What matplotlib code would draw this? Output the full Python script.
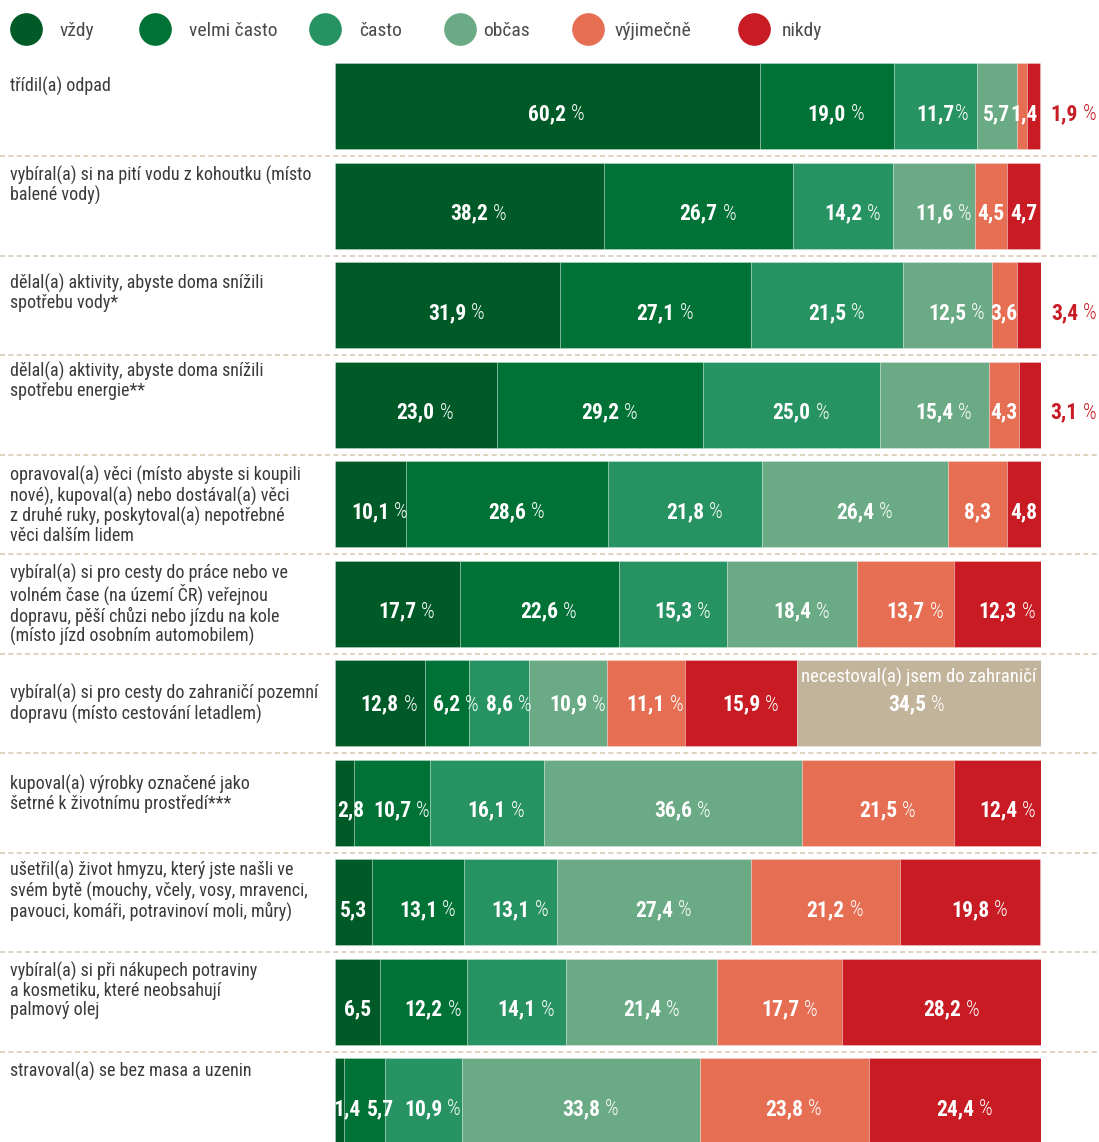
import matplotlib.pyplot as plt
from matplotlib.lines import Line2D
import matplotlib.transforms as mtransforms

plt.rcParams['font.family'] = ['Roboto Condensed', 'DejaVu Sans']

levels = ["vždy", "velmi často", "často", "občas", "výjimečně", "nikdy"]
colors = ["#005a27", "#007236", "#279262", "#6aaa85", "#e56e53", "#c81b23"]
tan = "#c2b39b"

categories = [
    "třídil(a) odpad",
    "vybíral(a) si na pití vodu z kohoutku (místo\nbalené vody)",
    "dělal(a) aktivity, abyste doma snížili\nspotřebu vody*",
    "dělal(a) aktivity, abyste doma snížili\nspotřebu energie**",
    "opravoval(a) věci (místo abyste si koupili\nnové), kupoval(a) nebo dostával(a) věci\nz druhé ruky, poskytoval(a) nepotřebné\nvěci dalším lidem",
    "vybíral(a) si pro cesty do práce nebo ve\nvolném čase (na území ČR) veřejnou\ndopravu, pěší chůzi nebo jízdu na kole\n(místo jízd osobním automobilem)",
    "vybíral(a) si pro cesty do zahraničí pozemní\ndopravu (místo cestování letadlem)",
    "kupoval(a) výrobky označené jako\nšetrné k životnímu prostředí***",
    "ušetřil(a) život hmyzu, který jste našli ve\nsvém bytě (mouchy, včely, vosy, mravenci,\npavouci, komáři, potravinoví moli, můry)",
    "vybíral(a) si při nákupech potraviny\na kosmetiku, které neobsahují\npalmový olej",
    "stravoval(a) se bez masa a uzenin",
]

values = [
    [60.2, 19.0, 11.7, 5.7, 1.4, 1.9],
    [38.2, 26.7, 14.2, 11.6, 4.5, 4.7],
    [31.9, 27.1, 21.5, 12.5, 3.6, 3.4],
    [23.0, 29.2, 25.0, 15.4, 4.3, 3.1],
    [10.1, 28.6, 21.8, 26.4, 8.3, 4.8],
    [17.7, 22.6, 15.3, 18.4, 13.7, 12.3],
    [12.8, 6.2, 8.6, 10.9, 11.1, 15.9],
    [2.8, 10.7, 16.1, 36.6, 21.5, 12.4],
    [5.3, 13.1, 13.1, 27.4, 21.2, 19.8],
    [6.5, 12.2, 14.1, 21.4, 17.7, 28.2],
    [1.4, 5.7, 10.9, 33.8, 23.8, 24.4],
]

# share of people who did not travel abroad (row 7)
no_travel = 34.5
no_travel_row = 6

# segments printed without the "%" sign, and those printed outside the bar
no_pct = {(0, 3), (0, 4), (1, 4), (1, 5), (2, 4), (3, 4), (4, 4), (4, 5),
          (7, 0), (8, 0), (9, 0), (10, 0), (10, 1)}
tight_pct = {(0, 2)}
outside = {(0, 5), (2, 5), (3, 5)}
# horizontal nudges (px) for crowded labels
nudge = {(0, 4): 2, (7, 0): 6, (10, 0): 7, (10, 1): 16}
# gap (px) between bar top and the first line of each category name
name_dy = [15, 4, 13, 1, 6, 4, 25, 16, 3, 4, 5]

W, H = 1099, 1142
fig = plt.figure(figsize=(W / 100, H / 100), dpi=100)
x0, x1 = 334.5, 1041
ax = fig.add_axes([x0 / W, 0, (x1 - x0) / W, 1])
row0, step = 106, 99.5
ax.set_xlim(0, 100)
ax.set_ylim((H - row0) / step, -row0 / step)
ax.axis('off')

bar_h = 86 / step
ppx = 100 / (x1 - x0)  # data units per pixel along x


def fmt(v):
    return f"{v:.1f}".replace('.', ',')


def value_label(x, y, v, pct=True, color='white', gap=3.5, fs=15.5):
    # number is centred on x, the "%" hangs off its right side
    t = ax.text(x, y, fmt(v), ha='center', va='baseline', color=color,
                fontsize=fs, fontweight='bold', clip_on=False)
    if pct:
        ax.annotate('%', xy=(1, 0), xycoords=t, xytext=(gap, 0),
                    textcoords='offset points', ha='left', va='bottom',
                    color=color, fontsize=fs, fontweight='light')


base_dy = 14 / step

for i, row in enumerate(values):
    left = 0
    ly = i + (7.7 / step if i == no_travel_row else base_dy)
    for j, v in enumerate(row):
        ax.barh(i, v, left=left, height=bar_h, color=colors[j],
                edgecolor=(1, 1, 1, 0.3), linewidth=0.6)
        cx = left + v / 2 + nudge.get((i, j), 0) * ppx
        if (i, j) in outside:
            value_label(103.3, ly, v, color=colors[5])
        elif (i, j) in no_pct:
            value_label(cx, ly, v, pct=False)
        elif (i, j) in tight_pct:
            value_label(cx, ly, v, gap=0.5)
        else:
            value_label(cx, ly, v)
        left += v
    if i == no_travel_row:
        ax.barh(i, no_travel, left=left, height=bar_h, color=tan,
                edgecolor=(1, 1, 1, 0.3), linewidth=0.6)
        mid = left + no_travel / 2
        ax.text(mid, i - 20 / step, "necestoval(a) jsem do zahraničí",
                ha='center', va='baseline', color='white', fontsize=13.5)
        value_label(mid - 12 * ppx, ly, no_travel)

# category names and dashed separators span the full figure width
trans = mtransforms.blended_transform_factory(fig.transFigure, ax.transData)
for i, name in enumerate(categories):
    ax.text(10 / W, i - bar_h / 2 + (name_dy[i] - 1) / step, name, transform=trans,
            ha='left', va='top', fontsize=13, color='#3a3a3a', linespacing=1.08)
    if i < len(categories) - 1:
        ax.plot([0, 1], [i + 0.505, i + 0.505], transform=trans, color='#d8cab6',
                linewidth=1.2, linestyle=(0, (3, 2)), clip_on=False)

# legend with hand-placed circles
legend_x = [26, 155, 325, 459.5, 587.5, 754]
legend_tx = [60, 189, 359, 483, 615, 782]
for lx, tx, name, c in zip(legend_x, legend_tx, levels, colors):
    fig.add_artist(Line2D([lx / W], [1 - 28.5 / H], marker='o', markersize=22.5,
                          color=c, linestyle='none', transform=fig.transFigure))
    fig.text(tx / W, 1 - 36 / H, name, ha='left', va='baseline',
             fontsize=14, color='#4a4a4a')

fig.savefig('out.png', dpi=100)
